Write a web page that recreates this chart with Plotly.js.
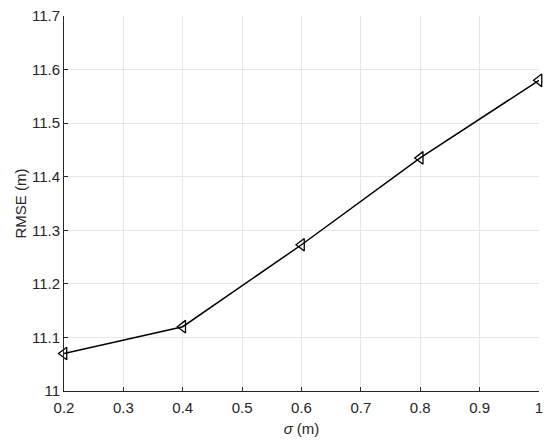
<!DOCTYPE html>
<html>
<head>
<meta charset="utf-8">
<script src="https://cdn.plot.ly/plotly-3.0.1.min.js"></script>
<style>html,body{margin:0;padding:0;background:#fff;}#chart{width:550px;height:444px;}</style>
</head>
<body>
<div id="chart"></div>
<script>
const sigma = [0.2, 0.4, 0.6, 0.8, 1.0];
const rmse = [11.07, 11.12, 11.273, 11.435, 11.58];
const xTicks = [0.2, 0.3, 0.4, 0.5, 0.6, 0.7, 0.8, 0.9, 1];
const xTickText = ['0.2', '0.3', '0.4', '0.5', '0.6', '0.7', '0.8', '0.9', '1'];
const yTicks = [11, 11.1, 11.2, 11.3, 11.4, 11.5, 11.6, 11.7];
const yTickText = ['11', '11.1', '11.2', '11.3', '11.4', '11.5', '11.6', '11.7'];

const font = {family: 'Liberation Sans, Arial, sans-serif', size: 15, color: '#262626'};

Plotly.newPlot('chart', [{
  x: sigma, y: rmse, type: 'scatter', mode: 'lines+markers',
  line: {color: '#000', width: 1.5},
  marker: {symbol: 'triangle-left-open', size: 11, color: '#000', line: {width: 1.3, color: '#000'}},
  cliponaxis: false
}], {
  width: 550, height: 444,
  margin: {l: 64, r: 11, t: 16, b: 53},
  paper_bgcolor: '#fff', plot_bgcolor: '#fff',
  showlegend: false,
  font: font,
  xaxis: {
    range: [0.2, 1], tickvals: xTicks, ticktext: xTickText,
    showgrid: true, gridcolor: '#e6e6e6', gridwidth: 1,
    zeroline: false, showline: true, linecolor: '#262626', linewidth: 1,
    ticks: 'inside', ticklen: 4, tickcolor: '#262626',
    tickfont: font, ticklabelstandoff: 3,
    title: {text: '<i>σ</i> (m)', font: font, standoff: 8}
  },
  yaxis: {
    range: [11, 11.7], tickvals: yTicks, ticktext: yTickText,
    showgrid: true, gridcolor: '#e6e6e6', gridwidth: 1,
    zeroline: false, showline: true, linecolor: '#262626', linewidth: 1,
    ticks: 'inside', ticklen: 4, tickcolor: '#262626',
    tickfont: font,
    title: {text: 'RMSE (m)', font: font, standoff: 1}
  }
}, {displayModeBar: false, staticPlot: true});
</script>
</body>
</html>
